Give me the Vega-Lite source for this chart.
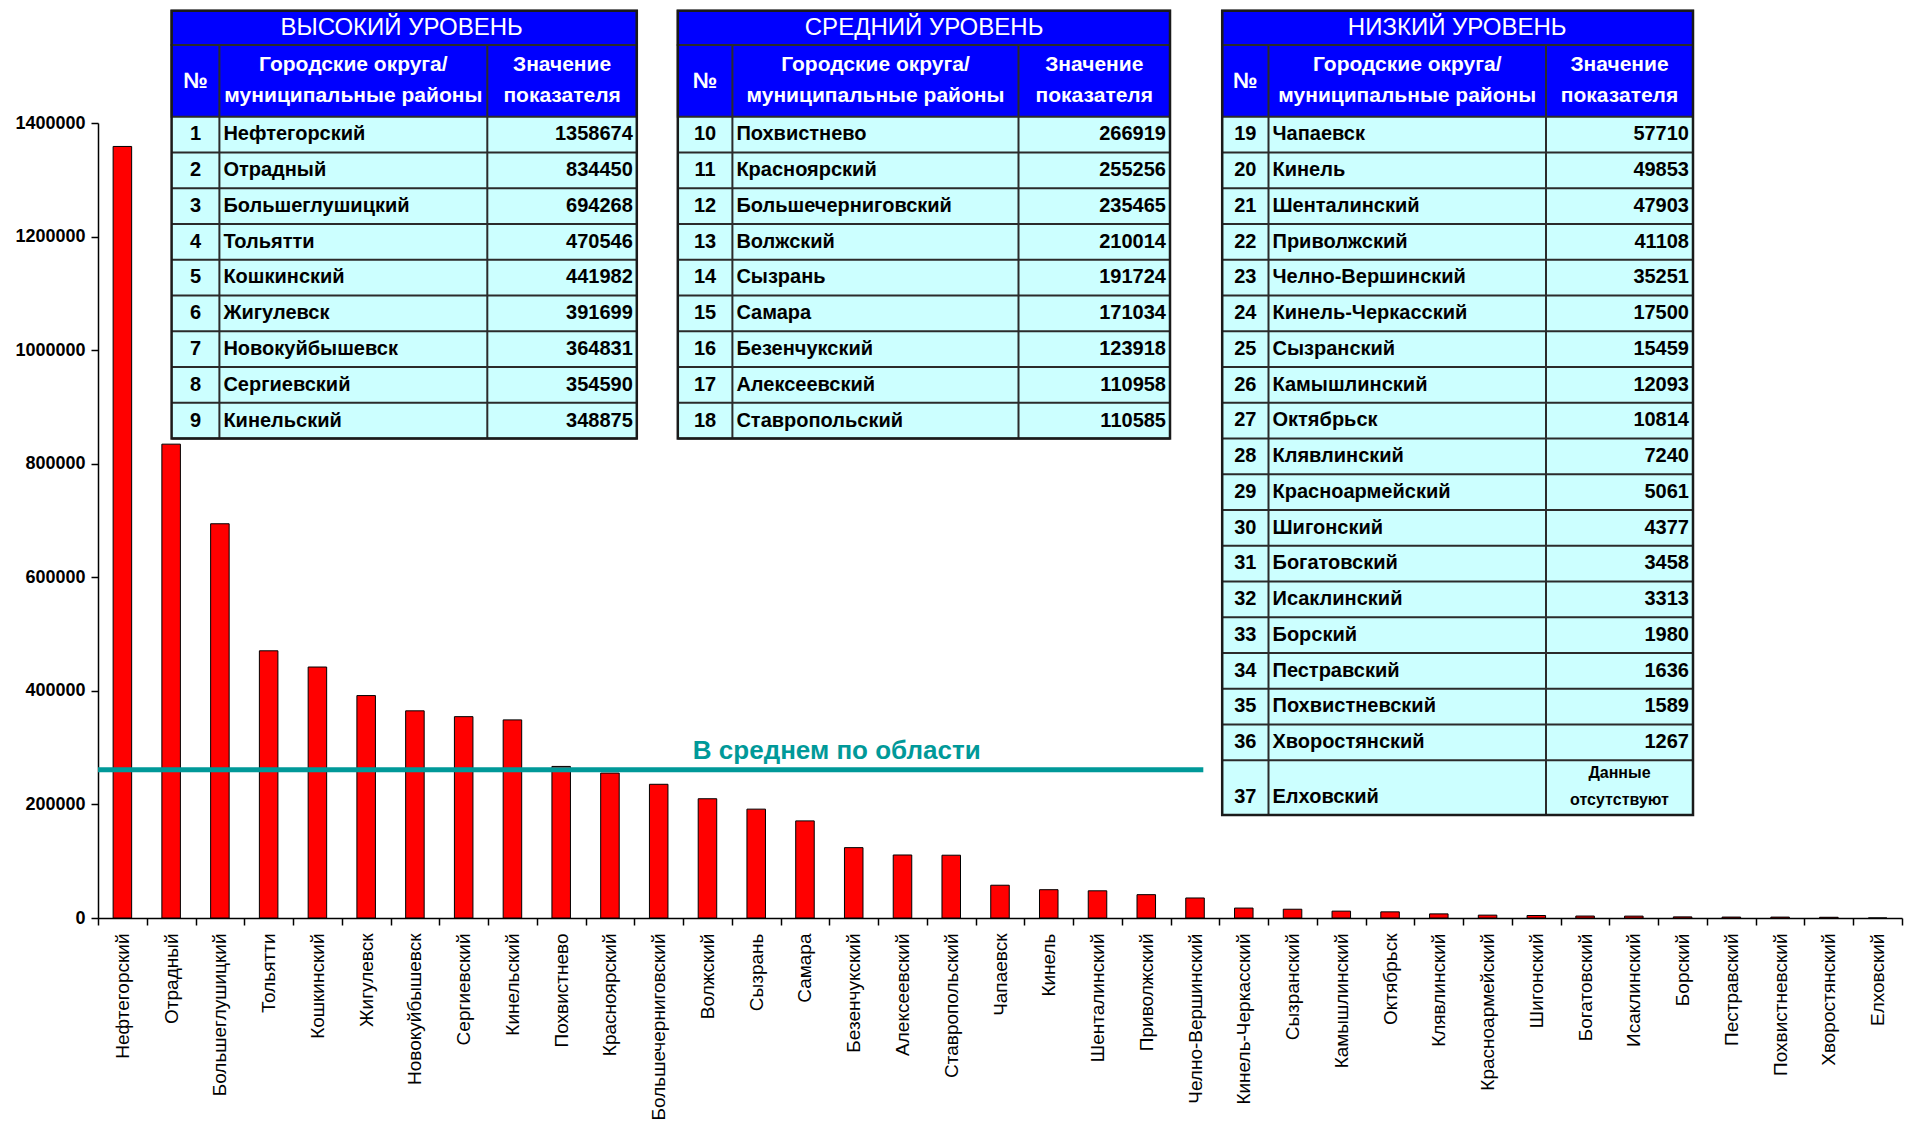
{
  "$schema": "https://vega.github.io/schema/vega-lite/v6.json",
  "width": 1804,
  "height": 795,
  "autosize": {"type": "none"},
  "padding": {"left": 98, "top": 123, "right": 3, "bottom": 212},
  "background": "#FFFFFF",
  "config": {"view": {"stroke": null}},
  "datasets": {
    "d": [
      {"n": 1, "name": "Нефтегорский", "value": 1358674, "level": "high"},
      {"n": 2, "name": "Отрадный", "value": 834450, "level": "high"},
      {"n": 3, "name": "Большеглушицкий", "value": 694268, "level": "high"},
      {"n": 4, "name": "Тольятти", "value": 470546, "level": "high"},
      {"n": 5, "name": "Кошкинский", "value": 441982, "level": "high"},
      {"n": 6, "name": "Жигулевск", "value": 391699, "level": "high"},
      {"n": 7, "name": "Новокуйбышевск", "value": 364831, "level": "high"},
      {"n": 8, "name": "Сергиевский", "value": 354590, "level": "high"},
      {"n": 9, "name": "Кинельский", "value": 348875, "level": "high"},
      {"n": 10, "name": "Похвистнево", "value": 266919, "level": "mid"},
      {"n": 11, "name": "Красноярский", "value": 255256, "level": "mid"},
      {"n": 12, "name": "Большечерниговский", "value": 235465, "level": "mid"},
      {"n": 13, "name": "Волжский", "value": 210014, "level": "mid"},
      {"n": 14, "name": "Сызрань", "value": 191724, "level": "mid"},
      {"n": 15, "name": "Самара", "value": 171034, "level": "mid"},
      {"n": 16, "name": "Безенчукский", "value": 123918, "level": "mid"},
      {"n": 17, "name": "Алексеевский", "value": 110958, "level": "mid"},
      {"n": 18, "name": "Ставропольский", "value": 110585, "level": "mid"},
      {"n": 19, "name": "Чапаевск", "value": 57710, "level": "low"},
      {"n": 20, "name": "Кинель", "value": 49853, "level": "low"},
      {"n": 21, "name": "Шенталинский", "value": 47903, "level": "low"},
      {"n": 22, "name": "Приволжский", "value": 41108, "level": "low"},
      {"n": 23, "name": "Челно-Вершинский", "value": 35251, "level": "low"},
      {"n": 24, "name": "Кинель-Черкасский", "value": 17500, "level": "low"},
      {"n": 25, "name": "Сызранский", "value": 15459, "level": "low"},
      {"n": 26, "name": "Камышлинский", "value": 12093, "level": "low"},
      {"n": 27, "name": "Октябрьск", "value": 10814, "level": "low"},
      {"n": 28, "name": "Клявлинский", "value": 7240, "level": "low"},
      {"n": 29, "name": "Красноармейский", "value": 5061, "level": "low"},
      {"n": 30, "name": "Шигонский", "value": 4377, "level": "low"},
      {"n": 31, "name": "Богатовский", "value": 3458, "level": "low"},
      {"n": 32, "name": "Исаклинский", "value": 3313, "level": "low"},
      {"n": 33, "name": "Борский", "value": 1980, "level": "low"},
      {"n": 34, "name": "Пестравский", "value": 1636, "level": "low"},
      {"n": 35, "name": "Похвистневский", "value": 1589, "level": "low"},
      {"n": 36, "name": "Хворостянский", "value": 1267, "level": "low"},
      {"n": 37, "name": "Елховский", "value": null, "level": "low"}
    ],
    "tables": [
      {"level": "high", "title": "ВЫСОКИЙ УРОВЕНЬ"},
      {"level": "mid", "title": "СРЕДНИЙ УРОВЕНЬ"},
      {"level": "low", "title": "НИЗКИЙ УРОВЕНЬ"}
    ],
    "header": [
      {"no": "№", "name": "Городские округа/\nмуниципальные районы", "value": "Значение\nпоказателя"}
    ],
    "avg": [
      {"label": "В среднем по области", "value": 261000}
    ]
  },
  "layer": [
    {
      "layer": [
        {
          "data": {"name": "d"},
          "mark": {"type": "bar", "fill": "#FF0000", "stroke": "#000000", "strokeWidth": 1, "width": {"band": 0.38}, "invalid": "show"},
          "encoding": {
            "x": {"field": "name", "type": "nominal", "sort": null,
              "scale": {"paddingInner": 0, "paddingOuter": 0},
              "axis": {"title": null, "labelAngle": -90, "labelFont": "Liberation Sans, Arial, sans-serif", "labelFontSize": 19, "labelColor": "#000000", "labelPadding": 8, "labelLimit": 400, "labelOverlap": false, "tickBand": "extent", "tickSize": 7, "tickColor": "#000000", "tickWidth": 1.5, "domainColor": "#000000", "domainWidth": 1.5}},
            "y": {"field": "value", "type": "quantitative",
              "scale": {"domain": [0, 1400000], "nice": false},
              "axis": {"title": null, "values": [0, 200000, 400000, 600000, 800000, 1000000, 1200000, 1400000], "format": "d", "labelFont": "Liberation Sans, Arial, sans-serif", "labelFontSize": 18, "labelFontWeight": "bold", "labelColor": "#000000", "grid": false, "tickSize": 7, "tickColor": "#000000", "tickWidth": 1.5, "domainColor": "#000000", "domainWidth": 1.5, "labelPadding": 6}}
          }
        },
        {
          "data": {"name": "avg"},
          "mark": {"type": "rule", "stroke": "#009999", "strokeWidth": 5},
          "encoding": {
            "x": {"datum": 0, "type": "quantitative", "scale": {"domain": [0, 37], "nice": false, "zero": false}, "axis": null},
            "x2": {"datum": 22.67},
            "y": {"field": "value", "type": "quantitative"}
          }
        },
        {
          "data": {"name": "avg"},
          "mark": {"type": "text", "font": "Liberation Sans, Arial, sans-serif", "fontSize": 26, "fontWeight": "bold", "fill": "#009999", "align": "left", "baseline": "alphabetic", "dy": -11},
          "encoding": {
            "x": {"datum": 12.2, "type": "quantitative", "scale": {"domain": [0, 37], "nice": false, "zero": false}, "axis": null},
            "y": {"field": "value", "type": "quantitative"},
            "text": {"field": "label"}
          }
        }
      ],
      "resolve": {"scale": {"x": "independent"}}
    },
    {
      "layer": [
        {"data": {"name": "tables"}, "transform": [{"filter": "datum.level === 'high'"}],
          "mark": {"type": "rect", "fill": "#CCFFFF"},
          "encoding": {"x": {"datum": 0, "type": "quantitative", "scale": {"domain": [0, 1, 2, 3], "range": [73.6, 121.4, 389.3, 538.8], "zero": false, "nice": false}, "axis": null}, "x2": {"datum": 3},
            "y": {"datum": 0, "type": "quantitative", "scale": {"domain": [-2, -1, 0, 9], "range": [-112.3, -78, -6.3, 315.5], "zero": false, "nice": false}, "axis": null}, "y2": {"datum": 9}}},
        {"data": {"name": "tables"}, "transform": [{"filter": "datum.level === 'high'"}],
          "mark": {"type": "rect", "fill": "#0000FF", "stroke": "#2B2B2B", "strokeWidth": 2},
          "encoding": {"x": {"datum": 0, "type": "quantitative", "axis": null}, "x2": {"datum": 3},
            "y": {"datum": -2, "type": "quantitative", "axis": null}, "y2": {"datum": -1}}},
        {"data": {"name": "tables"}, "transform": [{"filter": "datum.level === 'high'"}],
          "mark": {"type": "rect", "fill": "#0000FF", "stroke": "#2B2B2B", "strokeWidth": 2},
          "encoding": {"x": {"datum": 0, "type": "quantitative", "axis": null}, "x2": {"datum": 3},
            "y": {"datum": -1, "type": "quantitative", "axis": null}, "y2": {"datum": 0}}},
        {"data": {"name": "d"}, "transform": [{"filter": "datum.level === 'high'"}],
          "mark": {"type": "rule", "stroke": "#2B2B2B", "strokeWidth": 2},
          "encoding": {"x": {"datum": 0, "type": "quantitative", "axis": null}, "x2": {"datum": 3},
            "y": {"field": "n", "type": "quantitative", "axis": null}}},
        {"data": {"name": "tables"}, "transform": [{"filter": "datum.level === 'high'"}],
          "mark": {"type": "rule", "stroke": "#2B2B2B", "strokeWidth": 2},
          "encoding": {"x": {"datum": 1, "type": "quantitative", "axis": null},
            "y": {"datum": -1, "type": "quantitative", "axis": null}, "y2": {"datum": 9}}},
        {"data": {"name": "tables"}, "transform": [{"filter": "datum.level === 'high'"}],
          "mark": {"type": "rule", "stroke": "#2B2B2B", "strokeWidth": 2},
          "encoding": {"x": {"datum": 2, "type": "quantitative", "axis": null},
            "y": {"datum": -1, "type": "quantitative", "axis": null}, "y2": {"datum": 9}}},
        {"data": {"name": "tables"}, "transform": [{"filter": "datum.level === 'high'"}],
          "mark": {"type": "rect", "fill": "transparent", "stroke": "#1A1A1A", "strokeWidth": 2.5},
          "encoding": {"x": {"datum": 0, "type": "quantitative", "axis": null}, "x2": {"datum": 3},
            "y": {"datum": -2, "type": "quantitative", "axis": null}, "y2": {"datum": 9}}},
        {"data": {"name": "tables"}, "transform": [{"filter": "datum.level === 'high'"}],
          "mark": {"type": "text", "font": "Liberation Sans, Arial, sans-serif", "fontSize": 24, "fill": "#FFFFFF", "align": "center", "baseline": "middle"},
          "encoding": {"x": {"datum": 1.68, "type": "quantitative", "axis": null}, "y": {"datum": -1.5, "type": "quantitative", "axis": null}, "text": {"field": "title"}}},
        {"data": {"name": "header"},
          "mark": {"type": "text", "font": "Liberation Sans, Arial, sans-serif", "fontSize": 22, "fontWeight": "bold", "fill": "#FFFFFF", "align": "center", "baseline": "middle"},
          "encoding": {"x": {"datum": 0.5, "type": "quantitative", "axis": null}, "y": {"datum": -0.5, "type": "quantitative", "axis": null}, "text": {"field": "no"}}},
        {"data": {"name": "header"},
          "mark": {"type": "text", "font": "Liberation Sans, Arial, sans-serif", "fontSize": 21, "fontWeight": "bold", "fill": "#FFFFFF", "align": "center", "baseline": "middle", "lineBreak": "\n", "lineHeight": 31, "dy": -15.5},
          "encoding": {"x": {"datum": 1.5, "type": "quantitative", "axis": null}, "y": {"datum": -0.5, "type": "quantitative", "axis": null}, "text": {"field": "name"}}},
        {"data": {"name": "header"},
          "mark": {"type": "text", "font": "Liberation Sans, Arial, sans-serif", "fontSize": 21, "fontWeight": "bold", "fill": "#FFFFFF", "align": "center", "baseline": "middle", "lineBreak": "\n", "lineHeight": 31, "dy": -15.5},
          "encoding": {"x": {"datum": 2.5, "type": "quantitative", "axis": null}, "y": {"datum": -0.5, "type": "quantitative", "axis": null}, "text": {"field": "value"}}},
        {"data": {"name": "d"}, "transform": [{"filter": "datum.level === 'high'"}],
          "mark": {"type": "text", "font": "Liberation Sans, Arial, sans-serif", "fontSize": 20, "fontWeight": "bold", "fill": "#000000", "align": "center", "baseline": "middle", "dy": -18},
          "encoding": {"x": {"datum": 0.5, "type": "quantitative", "axis": null}, "y": {"field": "n", "type": "quantitative", "axis": null}, "text": {"field": "n", "type": "nominal"}}},
        {"data": {"name": "d"}, "transform": [{"filter": "datum.level === 'high'"}],
          "mark": {"type": "text", "font": "Liberation Sans, Arial, sans-serif", "fontSize": 20, "fontWeight": "bold", "fill": "#000000", "align": "left", "baseline": "middle", "dy": -18, "dx": 4},
          "encoding": {"x": {"datum": 1, "type": "quantitative", "axis": null}, "y": {"field": "n", "type": "quantitative", "axis": null}, "text": {"field": "name"}}},
        {"data": {"name": "d"}, "transform": [{"filter": "datum.level === 'high' && datum.value != null"}],
          "mark": {"type": "text", "font": "Liberation Sans, Arial, sans-serif", "fontSize": 20, "fontWeight": "bold", "fill": "#000000", "align": "right", "baseline": "middle", "dy": -18, "dx": -4},
          "encoding": {"x": {"datum": 3, "type": "quantitative", "axis": null}, "y": {"field": "n", "type": "quantitative", "axis": null}, "text": {"field": "value", "type": "quantitative", "format": "d"}}}
      ]
    },
    {
      "layer": [
        {"data": {"name": "tables"}, "transform": [{"filter": "datum.level === 'mid'"}],
          "mark": {"type": "rect", "fill": "#CCFFFF"},
          "encoding": {"x": {"datum": 0, "type": "quantitative", "scale": {"domain": [0, 1, 2, 3], "range": [579.8, 634.4, 920.5, 1072], "zero": false, "nice": false}, "axis": null}, "x2": {"datum": 3},
            "y": {"datum": 9, "type": "quantitative", "scale": {"domain": [7, 8, 9, 18], "range": [-112.3, -78, -6.3, 315.5], "zero": false, "nice": false}, "axis": null}, "y2": {"datum": 18}}},
        {"data": {"name": "tables"}, "transform": [{"filter": "datum.level === 'mid'"}],
          "mark": {"type": "rect", "fill": "#0000FF", "stroke": "#2B2B2B", "strokeWidth": 2},
          "encoding": {"x": {"datum": 0, "type": "quantitative", "axis": null}, "x2": {"datum": 3},
            "y": {"datum": 7, "type": "quantitative", "axis": null}, "y2": {"datum": 8}}},
        {"data": {"name": "tables"}, "transform": [{"filter": "datum.level === 'mid'"}],
          "mark": {"type": "rect", "fill": "#0000FF", "stroke": "#2B2B2B", "strokeWidth": 2},
          "encoding": {"x": {"datum": 0, "type": "quantitative", "axis": null}, "x2": {"datum": 3},
            "y": {"datum": 8, "type": "quantitative", "axis": null}, "y2": {"datum": 9}}},
        {"data": {"name": "d"}, "transform": [{"filter": "datum.level === 'mid'"}],
          "mark": {"type": "rule", "stroke": "#2B2B2B", "strokeWidth": 2},
          "encoding": {"x": {"datum": 0, "type": "quantitative", "axis": null}, "x2": {"datum": 3},
            "y": {"field": "n", "type": "quantitative", "axis": null}}},
        {"data": {"name": "tables"}, "transform": [{"filter": "datum.level === 'mid'"}],
          "mark": {"type": "rule", "stroke": "#2B2B2B", "strokeWidth": 2},
          "encoding": {"x": {"datum": 1, "type": "quantitative", "axis": null},
            "y": {"datum": 8, "type": "quantitative", "axis": null}, "y2": {"datum": 18}}},
        {"data": {"name": "tables"}, "transform": [{"filter": "datum.level === 'mid'"}],
          "mark": {"type": "rule", "stroke": "#2B2B2B", "strokeWidth": 2},
          "encoding": {"x": {"datum": 2, "type": "quantitative", "axis": null},
            "y": {"datum": 8, "type": "quantitative", "axis": null}, "y2": {"datum": 18}}},
        {"data": {"name": "tables"}, "transform": [{"filter": "datum.level === 'mid'"}],
          "mark": {"type": "rect", "fill": "transparent", "stroke": "#1A1A1A", "strokeWidth": 2.5},
          "encoding": {"x": {"datum": 0, "type": "quantitative", "axis": null}, "x2": {"datum": 3},
            "y": {"datum": 7, "type": "quantitative", "axis": null}, "y2": {"datum": 18}}},
        {"data": {"name": "tables"}, "transform": [{"filter": "datum.level === 'mid'"}],
          "mark": {"type": "text", "font": "Liberation Sans, Arial, sans-serif", "fontSize": 24, "fill": "#FFFFFF", "align": "center", "baseline": "middle"},
          "encoding": {"x": {"datum": 1.67, "type": "quantitative", "axis": null}, "y": {"datum": 7.5, "type": "quantitative", "axis": null}, "text": {"field": "title"}}},
        {"data": {"name": "header"},
          "mark": {"type": "text", "font": "Liberation Sans, Arial, sans-serif", "fontSize": 22, "fontWeight": "bold", "fill": "#FFFFFF", "align": "center", "baseline": "middle"},
          "encoding": {"x": {"datum": 0.5, "type": "quantitative", "axis": null}, "y": {"datum": 8.5, "type": "quantitative", "axis": null}, "text": {"field": "no"}}},
        {"data": {"name": "header"},
          "mark": {"type": "text", "font": "Liberation Sans, Arial, sans-serif", "fontSize": 21, "fontWeight": "bold", "fill": "#FFFFFF", "align": "center", "baseline": "middle", "lineBreak": "\n", "lineHeight": 31, "dy": -15.5},
          "encoding": {"x": {"datum": 1.5, "type": "quantitative", "axis": null}, "y": {"datum": 8.5, "type": "quantitative", "axis": null}, "text": {"field": "name"}}},
        {"data": {"name": "header"},
          "mark": {"type": "text", "font": "Liberation Sans, Arial, sans-serif", "fontSize": 21, "fontWeight": "bold", "fill": "#FFFFFF", "align": "center", "baseline": "middle", "lineBreak": "\n", "lineHeight": 31, "dy": -15.5},
          "encoding": {"x": {"datum": 2.5, "type": "quantitative", "axis": null}, "y": {"datum": 8.5, "type": "quantitative", "axis": null}, "text": {"field": "value"}}},
        {"data": {"name": "d"}, "transform": [{"filter": "datum.level === 'mid'"}],
          "mark": {"type": "text", "font": "Liberation Sans, Arial, sans-serif", "fontSize": 20, "fontWeight": "bold", "fill": "#000000", "align": "center", "baseline": "middle", "dy": -18},
          "encoding": {"x": {"datum": 0.5, "type": "quantitative", "axis": null}, "y": {"field": "n", "type": "quantitative", "axis": null}, "text": {"field": "n", "type": "nominal"}}},
        {"data": {"name": "d"}, "transform": [{"filter": "datum.level === 'mid'"}],
          "mark": {"type": "text", "font": "Liberation Sans, Arial, sans-serif", "fontSize": 20, "fontWeight": "bold", "fill": "#000000", "align": "left", "baseline": "middle", "dy": -18, "dx": 4},
          "encoding": {"x": {"datum": 1, "type": "quantitative", "axis": null}, "y": {"field": "n", "type": "quantitative", "axis": null}, "text": {"field": "name"}}},
        {"data": {"name": "d"}, "transform": [{"filter": "datum.level === 'mid' && datum.value != null"}],
          "mark": {"type": "text", "font": "Liberation Sans, Arial, sans-serif", "fontSize": 20, "fontWeight": "bold", "fill": "#000000", "align": "right", "baseline": "middle", "dy": -18, "dx": -4},
          "encoding": {"x": {"datum": 3, "type": "quantitative", "axis": null}, "y": {"field": "n", "type": "quantitative", "axis": null}, "text": {"field": "value", "type": "quantitative", "format": "d"}}}
      ]
    },
    {
      "layer": [
        {"data": {"name": "tables"}, "transform": [{"filter": "datum.level === 'low'"}],
          "mark": {"type": "rect", "fill": "#CCFFFF"},
          "encoding": {"x": {"datum": 0, "type": "quantitative", "scale": {"domain": [0, 1, 2, 3], "range": [1124.2, 1170.5, 1448, 1595], "zero": false, "nice": false}, "axis": null}, "x2": {"datum": 3},
            "y": {"datum": 18, "type": "quantitative", "scale": {"domain": [16, 17, 18, 36, 37], "range": [-112.3, -78, -6.3, 637.2, 692], "zero": false, "nice": false}, "axis": null}, "y2": {"datum": 37}}},
        {"data": {"name": "tables"}, "transform": [{"filter": "datum.level === 'low'"}],
          "mark": {"type": "rect", "fill": "#0000FF", "stroke": "#2B2B2B", "strokeWidth": 2},
          "encoding": {"x": {"datum": 0, "type": "quantitative", "axis": null}, "x2": {"datum": 3},
            "y": {"datum": 16, "type": "quantitative", "axis": null}, "y2": {"datum": 17}}},
        {"data": {"name": "tables"}, "transform": [{"filter": "datum.level === 'low'"}],
          "mark": {"type": "rect", "fill": "#0000FF", "stroke": "#2B2B2B", "strokeWidth": 2},
          "encoding": {"x": {"datum": 0, "type": "quantitative", "axis": null}, "x2": {"datum": 3},
            "y": {"datum": 17, "type": "quantitative", "axis": null}, "y2": {"datum": 18}}},
        {"data": {"name": "d"}, "transform": [{"filter": "datum.level === 'low'"}],
          "mark": {"type": "rule", "stroke": "#2B2B2B", "strokeWidth": 2},
          "encoding": {"x": {"datum": 0, "type": "quantitative", "axis": null}, "x2": {"datum": 3},
            "y": {"field": "n", "type": "quantitative", "axis": null}}},
        {"data": {"name": "tables"}, "transform": [{"filter": "datum.level === 'low'"}],
          "mark": {"type": "rule", "stroke": "#2B2B2B", "strokeWidth": 2},
          "encoding": {"x": {"datum": 1, "type": "quantitative", "axis": null},
            "y": {"datum": 17, "type": "quantitative", "axis": null}, "y2": {"datum": 37}}},
        {"data": {"name": "tables"}, "transform": [{"filter": "datum.level === 'low'"}],
          "mark": {"type": "rule", "stroke": "#2B2B2B", "strokeWidth": 2},
          "encoding": {"x": {"datum": 2, "type": "quantitative", "axis": null},
            "y": {"datum": 17, "type": "quantitative", "axis": null}, "y2": {"datum": 37}}},
        {"data": {"name": "tables"}, "transform": [{"filter": "datum.level === 'low'"}],
          "mark": {"type": "rect", "fill": "transparent", "stroke": "#1A1A1A", "strokeWidth": 2.5},
          "encoding": {"x": {"datum": 0, "type": "quantitative", "axis": null}, "x2": {"datum": 3},
            "y": {"datum": 16, "type": "quantitative", "axis": null}, "y2": {"datum": 37}}},
        {"data": {"name": "tables"}, "transform": [{"filter": "datum.level === 'low'"}],
          "mark": {"type": "text", "font": "Liberation Sans, Arial, sans-serif", "fontSize": 24, "fill": "#FFFFFF", "align": "center", "baseline": "middle"},
          "encoding": {"x": {"datum": 1.68, "type": "quantitative", "axis": null}, "y": {"datum": 16.5, "type": "quantitative", "axis": null}, "text": {"field": "title"}}},
        {"data": {"name": "header"},
          "mark": {"type": "text", "font": "Liberation Sans, Arial, sans-serif", "fontSize": 22, "fontWeight": "bold", "fill": "#FFFFFF", "align": "center", "baseline": "middle"},
          "encoding": {"x": {"datum": 0.5, "type": "quantitative", "axis": null}, "y": {"datum": 17.5, "type": "quantitative", "axis": null}, "text": {"field": "no"}}},
        {"data": {"name": "header"},
          "mark": {"type": "text", "font": "Liberation Sans, Arial, sans-serif", "fontSize": 21, "fontWeight": "bold", "fill": "#FFFFFF", "align": "center", "baseline": "middle", "lineBreak": "\n", "lineHeight": 31, "dy": -15.5},
          "encoding": {"x": {"datum": 1.5, "type": "quantitative", "axis": null}, "y": {"datum": 17.5, "type": "quantitative", "axis": null}, "text": {"field": "name"}}},
        {"data": {"name": "header"},
          "mark": {"type": "text", "font": "Liberation Sans, Arial, sans-serif", "fontSize": 21, "fontWeight": "bold", "fill": "#FFFFFF", "align": "center", "baseline": "middle", "lineBreak": "\n", "lineHeight": 31, "dy": -15.5},
          "encoding": {"x": {"datum": 2.5, "type": "quantitative", "axis": null}, "y": {"datum": 17.5, "type": "quantitative", "axis": null}, "text": {"field": "value"}}},
        {"data": {"name": "d"}, "transform": [{"filter": "datum.level === 'low'"}],
          "mark": {"type": "text", "font": "Liberation Sans, Arial, sans-serif", "fontSize": 20, "fontWeight": "bold", "fill": "#000000", "align": "center", "baseline": "middle", "dy": -18},
          "encoding": {"x": {"datum": 0.5, "type": "quantitative", "axis": null}, "y": {"field": "n", "type": "quantitative", "axis": null}, "text": {"field": "n", "type": "nominal"}}},
        {"data": {"name": "d"}, "transform": [{"filter": "datum.level === 'low'"}],
          "mark": {"type": "text", "font": "Liberation Sans, Arial, sans-serif", "fontSize": 20, "fontWeight": "bold", "fill": "#000000", "align": "left", "baseline": "middle", "dy": -18, "dx": 4},
          "encoding": {"x": {"datum": 1, "type": "quantitative", "axis": null}, "y": {"field": "n", "type": "quantitative", "axis": null}, "text": {"field": "name"}}},
        {"data": {"name": "d"}, "transform": [{"filter": "datum.level === 'low' && datum.value != null"}],
          "mark": {"type": "text", "font": "Liberation Sans, Arial, sans-serif", "fontSize": 20, "fontWeight": "bold", "fill": "#000000", "align": "right", "baseline": "middle", "dy": -18, "dx": -4},
          "encoding": {"x": {"datum": 3, "type": "quantitative", "axis": null}, "y": {"field": "n", "type": "quantitative", "axis": null}, "text": {"field": "value", "type": "quantitative", "format": "d"}}},
        {"data": {"name": "d"}, "transform": [{"filter": "datum.level === 'low' && datum.value == null"}],
          "mark": {"type": "text", "font": "Liberation Sans, Arial, sans-serif", "fontSize": 16, "fontWeight": "bold", "fill": "#000000", "align": "center", "baseline": "middle", "dy": -42, "lineHeight": 27, "text": ["Данные", "отсутствуют"]},
          "encoding": {"x": {"datum": 2.5, "type": "quantitative", "axis": null}, "y": {"field": "n", "type": "quantitative", "axis": null}}}
      ]
    }
  ],
  "resolve": {"scale": {"x": "independent", "y": "independent"}}
}
